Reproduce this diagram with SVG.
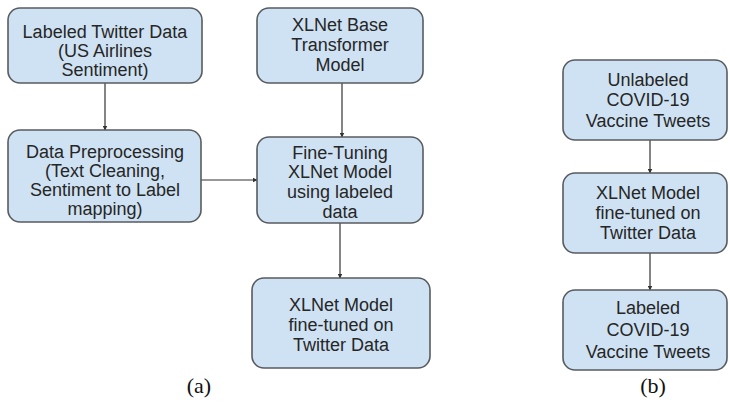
<svg xmlns="http://www.w3.org/2000/svg" width="730" height="406" viewBox="0 0 730 406">
  <defs>
    <marker id="arrow" viewBox="0 0 10 10" refX="9" refY="5" markerWidth="5" markerHeight="5" orient="auto" markerUnits="userSpaceOnUse">
      <path d="M0,0 L10,5 L0,10 z" fill="#333"/>
    </marker>
    <style>
      .box { fill: #cfe2f3; stroke: #585b60; stroke-width: 1.6; }
      .lbl { font-family: "Liberation Sans", Arial, sans-serif; font-size: 18px; fill: #262626; text-anchor: middle; }
      .cap { font-family: "Liberation Serif", "Times New Roman", serif; font-size: 22px; fill: #111; text-anchor: middle; }
      .edge { stroke: #333; stroke-width: 1.2; fill: none; marker-end: url(#arrow); }
    </style>
  </defs>
  <rect width="730" height="406" fill="#ffffff"/>

  <g id="connectors">
    <line class="edge" x1="105" y1="83" x2="105" y2="130"/>
    <line class="edge" x1="201" y1="180" x2="257" y2="180"/>
    <line class="edge" x1="342" y1="83" x2="342" y2="137"/>
    <line class="edge" x1="340" y1="223" x2="340" y2="278"/>
    <line class="edge" x1="650" y1="140" x2="650" y2="173"/>
    <line class="edge" x1="650" y1="253" x2="650" y2="290"/>
  </g>

  <g id="labeled-twitter-data">
    <rect class="box" x="8" y="8" width="194" height="75" rx="12"/>
    <text class="lbl" x="105" y="38">Labeled Twitter Data</text>
    <text class="lbl" x="105" y="57">(US Airlines</text>
    <text class="lbl" x="105" y="76">Sentiment)</text>
  </g>

  <g id="data-preprocessing">
    <rect class="box" x="8" y="130" width="193" height="92" rx="12"/>
    <text class="lbl" x="105" y="158">Data Preprocessing</text>
    <text class="lbl" x="105" y="177">(Text Cleaning,</text>
    <text class="lbl" x="105" y="196">Sentiment to Label</text>
    <text class="lbl" x="105" y="215">mapping)</text>
  </g>

  <g id="xlnet-base">
    <rect class="box" x="257" y="8" width="166" height="75" rx="12"/>
    <text class="lbl" x="340" y="31">XLNet Base</text>
    <text class="lbl" x="340" y="51">Transformer</text>
    <text class="lbl" x="340" y="71">Model</text>
  </g>

  <g id="fine-tuning">
    <rect class="box" x="257" y="137" width="166" height="86" rx="12"/>
    <text class="lbl" x="340" y="159">Fine-Tuning</text>
    <text class="lbl" x="340" y="178">XLNet Model</text>
    <text class="lbl" x="340" y="198">using labeled</text>
    <text class="lbl" x="340" y="218">data</text>
  </g>

  <g id="xlnet-fine-tuned-a">
    <rect class="box" x="252" y="278" width="178" height="90" rx="12"/>
    <text class="lbl" x="341" y="311">XLNet Model</text>
    <text class="lbl" x="341" y="331">fine-tuned on</text>
    <text class="lbl" x="341" y="351">Twitter Data</text>
  </g>

  <g id="unlabeled-covid">
    <rect class="box" x="563" y="60" width="164" height="80" rx="12"/>
    <text class="lbl" x="648" y="86">Unlabeled</text>
    <text class="lbl" x="648" y="106">COVID-19</text>
    <text class="lbl" x="648" y="127">Vaccine Tweets</text>
  </g>

  <g id="xlnet-fine-tuned-b">
    <rect class="box" x="563" y="173" width="164" height="80" rx="12"/>
    <text class="lbl" x="648" y="199">XLNet Model</text>
    <text class="lbl" x="648" y="219">fine-tuned on</text>
    <text class="lbl" x="648" y="239">Twitter Data</text>
  </g>

  <g id="labeled-covid">
    <rect class="box" x="563" y="290" width="164" height="80" rx="12"/>
    <text class="lbl" x="648" y="314">Labeled</text>
    <text class="lbl" x="648" y="336">COVID-19</text>
    <text class="lbl" x="648" y="358">Vaccine Tweets</text>
  </g>

  <text class="cap" x="199" y="393">(a)</text>
  <text class="cap" x="653" y="393">(b)</text>
</svg>
